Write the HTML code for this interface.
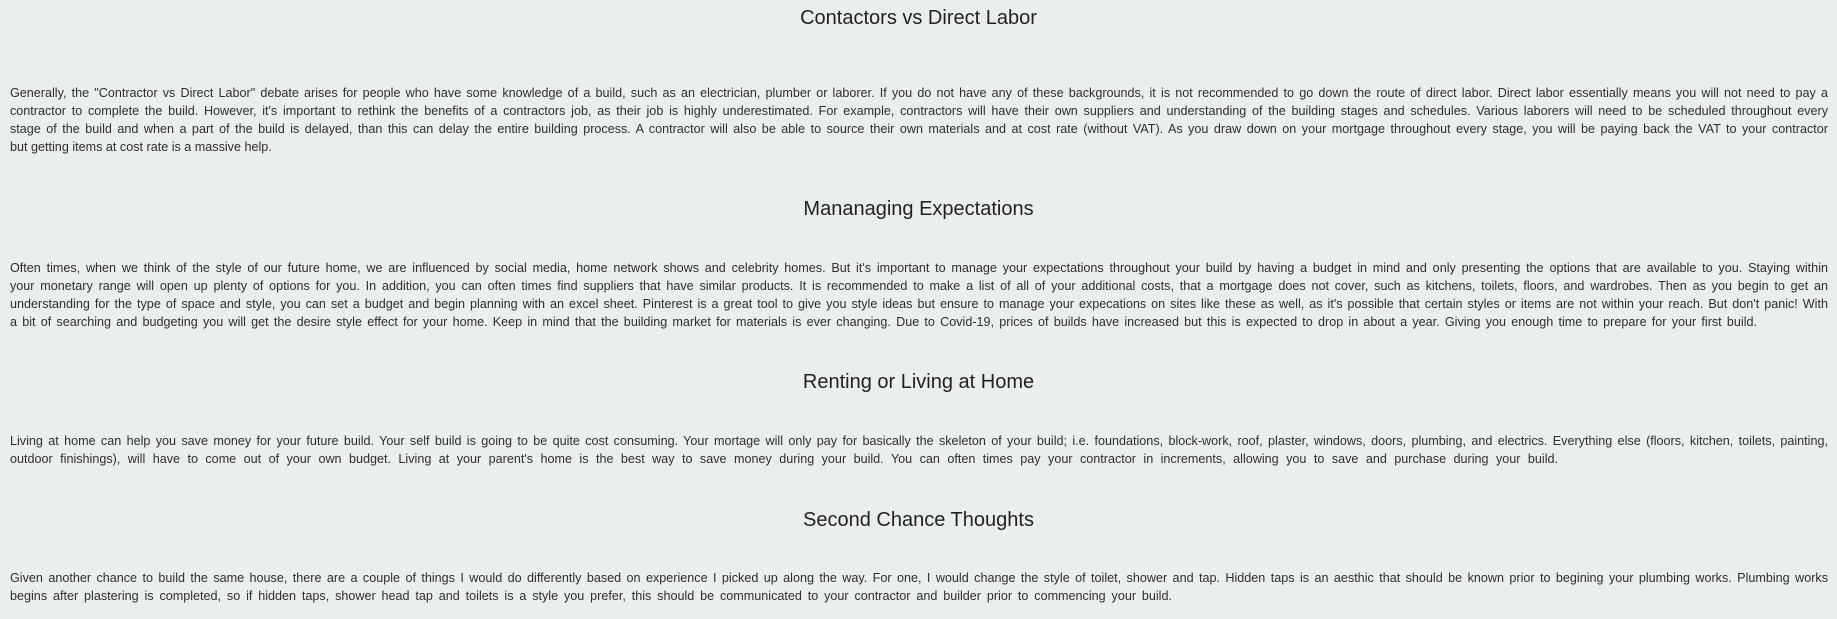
<!DOCTYPE html>
<html><head><meta charset="utf-8"><style>
html,body{margin:0;padding:0;background:#ebeeef;width:1837px;height:619px;overflow:hidden}
body{font-family:"Liberation Sans",sans-serif;color:#2e2e2e;position:relative}
.h{position:absolute;left:0;width:1837px;text-align:center;font-size:20px;line-height:24px;color:#222}
.p{position:absolute;left:10px;width:1818px;font-size:12.6px}
.l{height:17.9px;line-height:17.9px;white-space:nowrap;text-align:justify;text-align-last:justify}
</style></head><body>
<div class="h" style="top:6px">Contactors vs Direct Labor</div>
<div class="p" style="top:85px">
<div class="l">Generally, the "Contractor vs Direct Labor" debate arises for people who have some knowledge of a build, such as an electrician, plumber or laborer. If you do not have any of these backgrounds, it is not recommended to go down the route of direct labor. Direct labor essentially means you will not need to pay a</div>
<div class="l">contractor to complete the build. However, it's important to rethink the benefits of a contractors job, as their job is highly underestimated. For example, contractors will have their own suppliers and understanding of the building stages and schedules. Various laborers will need to be scheduled throughout every</div>
<div class="l">stage of the build and when a part of the build is delayed, than this can delay the entire building process. A contractor will also be able to source their own materials and at cost rate (without VAT). As you draw down on your mortgage throughout every stage, you will be paying back the VAT to your contractor</div>
<div class="l" style="width:245px">but getting items at cost rate is a massive help.</div>
</div>
<div class="h" style="top:197px">Mananaging Expectations</div>
<div class="p" style="top:260px">
<div class="l">Often times, when we think of the style of our future home, we are influenced by social media, home network shows and celebrity homes. But it's important to manage your expectations throughout your build by having a budget in mind and only presenting the options that are available to you. Staying within</div>
<div class="l">your monetary range will open up plenty of options for you. In addition, you can often times find suppliers that have similar products. It is recommended to make a list of all of your additional costs, that a mortgage does not cover, such as kitchens, toilets, floors, and wardrobes. Then as you begin to get an</div>
<div class="l">understanding for the type of space and style, you can set a budget and begin planning with an excel sheet. Pinterest is a great tool to give you style ideas but ensure to manage your expecations on sites like these as well, as it's possible that certain styles or items are not within your reach. But don't panic! With</div>
<div class="l" style="width:1747px">a bit of searching and budgeting you will get the desire style effect for your home. Keep in mind that the building market for materials is ever changing. Due to Covid-19, prices of builds have increased but this is expected to drop in about a year. Giving you enough time to prepare for your first build.</div>
</div>
<div class="h" style="top:370px">Renting or Living at Home</div>
<div class="p" style="top:433px">
<div class="l">Living at home can help you save money for your future build. Your self build is going to be quite cost consuming. Your mortage will only pay for basically the skeleton of your build; i.e. foundations, block-work, roof, plaster, windows, doors, plumbing, and electrics. Everything else (floors, kitchen, toilets, painting,</div>
<div class="l" style="width:1548px">outdoor finishings), will have to come out of your own budget. Living at your parent's home is the best way to save money during your build. You can often times pay your contractor in increments, allowing you to save and purchase during your build.</div>
</div>
<div class="h" style="top:508px">Second Chance Thoughts</div>
<div class="p" style="top:570px">
<div class="l">Given another chance to build the same house, there are a couple of things I would do differently based on experience I picked up along the way. For one, I would change the style of toilet, shower and tap. Hidden taps is an aesthic that should be known prior to begining your plumbing works. Plumbing works</div>
<div class="l" style="width:1162px">begins after plastering is completed, so if hidden taps, shower head tap and toilets is a style you prefer, this should be communicated to your contractor and builder prior to commencing your build.</div>
</div>
</body></html>
